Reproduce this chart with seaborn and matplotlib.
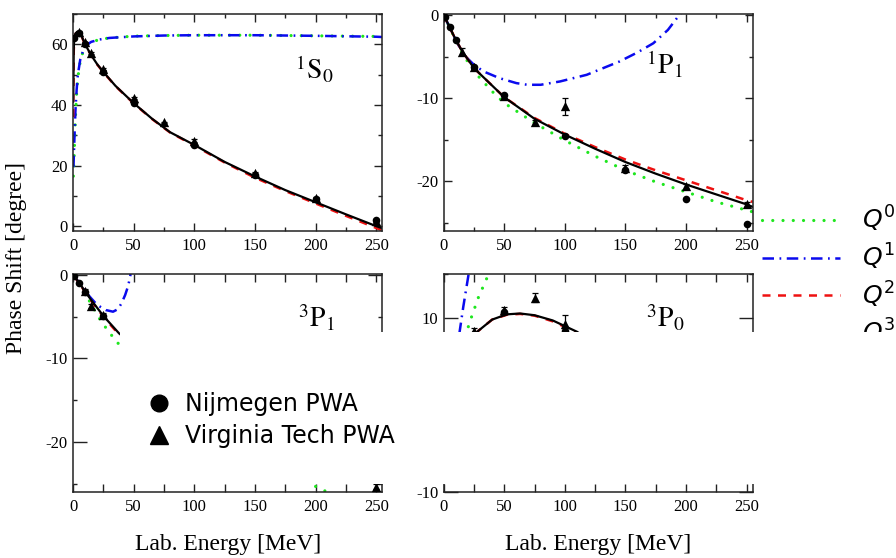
import matplotlib
matplotlib.use('Agg')
import matplotlib.pyplot as plt
from matplotlib.lines import Line2D
from matplotlib.patches import Rectangle
from matplotlib.ticker import MultipleLocator
from matplotlib.font_manager import FontProperties
import seaborn as sns

sns.set_theme(style='ticks')
plt.rcParams['font.family'] = ['Liberation Serif', 'DejaVu Serif']
plt.rcParams['mathtext.fontset'] = 'stix'
plt.rcParams['axes.unicode_minus'] = False
plt.rcParams['text.color'] = 'black'
plt.rcParams['axes.labelcolor'] = 'black'

# ---------------- data ----------------
E_nij = [1, 5, 10, 25, 50, 100, 150, 200, 250]

# 1S0
S0_nij = [62.07, 63.63, 59.96, 50.90, 40.54, 26.78, 16.94, 8.94, 1.96]
S0_vt_E = [5, 10, 15, 25, 50, 75, 100, 150, 200, 250]
S0_vt = [64.0, 60.6, 57.0, 51.8, 42.2, 34.2, 28.2, 17.6, 9.2, 1.6]
S0_vt_err = [0.3, 0.3, 0.3, 0.3, 0.4, 0.3, 0.4, 0.3, 0.3, 0.3]
S0_q0_E = [0.3, 1, 2, 3, 4, 6, 8, 11, 15, 22, 30, 50, 75, 100, 150, 200, 250, 255]
S0_q0 = [16.5, 24, 36, 44, 49, 54.5, 57.2, 59.5, 60.7, 61.6, 62.1, 62.7, 62.9, 63.0, 63.0, 62.8, 62.6, 62.5]
S0_q1_E = [0.4, 1, 2, 3, 4, 6, 8, 11, 15, 22, 30, 50, 75, 100, 150, 200, 250, 255]
S0_q1 = [19.5, 27, 38, 45, 50, 55, 57.5, 59.7, 60.8, 61.6, 62.1, 62.6, 62.9, 63.0, 63.0, 62.8, 62.5, 62.4]
S0_q2_E = [0.15, 0.6, 1, 2, 3.5, 5, 7, 10, 15, 20, 25, 35, 50, 65, 80, 100, 125, 150, 175, 200, 225, 250, 255]
S0_q2 = [36, 57.5, 61.8, 63.4, 64.0, 63.9, 62.7, 59.9, 56.3, 53.3, 50.8, 46.2, 40.5, 35.4, 30.9, 26.6, 21.0, 16.0, 11.6, 7.5, 3.4, -0.6, -1.4]
S0_q3_E = [0.2, 0.6, 1, 2, 3.5, 5, 7, 10, 15, 20, 25, 35, 50, 65, 80, 100, 125, 150, 175, 200, 225, 250, 255]
S0_q3 = [41, 58, 62.2, 63.6, 64.1, 64.0, 62.8, 60.0, 56.4, 53.4, 50.9, 46.3, 40.6, 35.5, 31.0, 26.8, 21.2, 16.4, 11.9, 7.9, 3.9, 0.0, -0.7]

# 1P1
P1s_nij = [-0.19, -1.49, -3.04, -6.31, -9.67, -14.52, -18.65, -22.18, -25.19]
P1s_vt_E = [15, 25, 50, 75, 100, 150, 200, 250]
P1s_vt = [-4.4, -6.3, -9.8, -12.9, -11.0, -18.4, -20.6, -22.8]
P1s_vt_err = [0.4, 0.2, 0.3, 0.3, 1.0, 0.3, 0.3, 0.3]
P1s_q0_E = [0, 5, 10, 15, 25, 40, 50, 75, 100, 125, 150, 175, 200, 225, 250, 255]
P1s_q0 = [0, -1.5, -3.1, -4.5, -6.8, -9.2, -10.6, -13.0, -15.1, -17.0, -18.7, -20.1, -21.3, -22.5, -23.5, -23.7]
P1s_q1_E = [0, 5, 10, 16, 25, 33, 46, 60, 69, 80, 96, 118, 145, 160, 173, 185, 196]
P1s_q1 = [0, -1.5, -3.0, -4.7, -6.0, -6.8, -7.6, -8.2, -8.4, -8.4, -8.0, -7.2, -5.6, -4.5, -3.4, -1.8, 0.3]
P1s_q2_E = [0, 5, 10, 15, 25, 50, 75, 100, 125, 150, 175, 200, 225, 250, 255]
P1s_q2 = [0, -1.5, -3.0, -4.3, -6.4, -9.9, -12.4, -14.3, -15.9, -17.4, -18.7, -19.9, -21.1, -22.3, -22.5]
P1s_q3_E = [0, 5, 10, 15, 25, 50, 75, 100, 125, 150, 175, 200, 225, 250, 255]
P1s_q3 = [0, -1.5, -3.0, -4.3, -6.4, -9.9, -12.5, -14.4, -16.1, -17.7, -19.1, -20.4, -21.6, -22.8, -23.1]

# 3P1
P1t_nij = [-0.11, -0.94, -2.06, -4.88, -8.25, -13.26, -17.43, -21.08, -24.27]
P1t_vt_E = [10, 15, 25, 50, 75, 100, 150, 200, 250]
P1t_vt = [-1.9, -3.7, -4.8, -8.0, -10.5, -13.0, -17.2, -21.5, -25.4]
P1t_vt_err = [0.2, 0.2, 0.2, 0.3, 0.3, 0.3, 0.3, 0.3, 0.3]
P1t_q0_E = [0, 5, 10, 15, 21.7, 27.7, 33.8, 50, 75, 100, 150, 195, 204, 215]
P1t_q0 = [0, -1.0, -2.2, -3.5, -5.2, -6.45, -7.6, -10.4, -14.0, -17.0, -21.5, -25.0, -25.6, -26.4]
P1t_q1_E = [0, 5, 10, 15, 20, 27, 33, 37, 40, 43, 45.5, 47.5]
P1t_q1 = [0, -0.9, -1.95, -2.8, -3.6, -4.2, -4.4, -4.1, -3.4, -2.4, -1.3, 0.1]
P1t_q2_E = [0, 5, 10, 15, 25, 38, 50, 75, 100, 150, 200, 250, 255]
P1t_q2 = [0, -0.95, -2.05, -3.1, -5.0, -7.15, -8.5, -11.1, -13.4, -17.5, -21.1, -24.3, -24.6]
P1t_q3_E = [0, 5, 10, 15, 25, 38, 50, 75, 100, 150, 200, 250, 255]
P1t_q3 = [0, -0.9, -2.0, -3.0, -4.9, -7.0, -8.4, -11.0, -13.3, -17.4, -21.0, -24.2, -24.5]

# 3P0
P0_nij = [0.18, 1.63, 3.65, 8.13, 10.70, 8.46, 3.69, -1.44, -6.51]
P0_vt_E = [25, 50, 75, 100, 150, 200, 250]
P0_vt = [8.5, 10.9, 12.3, 9.3, 4.0, -1.0, -6.0]
P0_vt_err = [0.3, 0.3, 0.5, 1.0, 0.5, 0.5, 0.5]
P0_q0_E = [0, 5, 10, 15, 21.7, 28.5, 36.7, 45]
P0_q0 = [0, 2.0, 4.3, 6.6, 9.6, 12.3, 14.9, 17.3]
P0_q1_E = [0, 5, 10, 13.4, 16.2, 20.3, 23]
P0_q1 = [0, 2.2, 5.4, 8.65, 11.3, 14.8, 17.5]
P0_q2_E = [0, 5, 10, 20, 28.5, 40, 52, 63, 75, 90, 110, 150, 200, 250, 255]
P0_q2 = [0, 1.6, 3.6, 6.8, 8.5, 9.8, 10.35, 10.45, 10.25, 9.6, 8.3, 4.3, -1.3, -6.6, -7.1]
P0_q3_E = [0, 5, 10, 20, 28.5, 40, 52, 63, 75, 90, 110, 150, 200, 250, 255]
P0_q3 = [0, 1.6, 3.6, 6.8, 8.5, 9.8, 10.4, 10.5, 10.3, 9.7, 8.4, 4.5, -1.0, -6.2, -6.7]

panel_labels = [r'$^{1}\mathrm{S}_{0}$', r'$^{1}\mathrm{P}_{1}$', r'$^{3}\mathrm{P}_{1}$', r'$^{3}\mathrm{P}_{0}$']
legend_q = [r'$Q^0$', r'$Q^1$', r'$Q^2$', r'$Q^3$']
legend_pwa = ['Nijmegen PWA', 'Virginia Tech PWA']
xlabel = 'Lab. Energy [MeV]'
ylabel = 'Phase Shift [degree]'

# ---------------- styles ----------------
GREEN = '#1ee61e'
BLUE = '#0a0aee'
RED = '#ee1111'
st_q0 = dict(color=GREEN, lw=2.3, linestyle=(0, (0.01, 3.2)), dash_capstyle='round')
st_q1 = dict(color=BLUE, lw=1.8, linestyle=(0, (4.6, 2.2, 0.7, 2.2)))
st_q2 = dict(color=RED, lw=1.8, linestyle=(0, (3.2, 3.0)))
st_q3 = dict(color='black', lw=1.6, linestyle='-')

W, H = 896, 558
fig = plt.figure(figsize=(W / 100, H / 100), dpi=100)


def rect(l, r, t, b):
    return [l / W, (H - b) / H, (r - l) / W, (b - t) / H]


ax_tl = fig.add_axes(rect(73, 382.3, 14, 231))
ax_tr = fig.add_axes(rect(443.7, 752.7, 14, 231))
ax_bl = fig.add_axes(rect(73, 382.3, 274.3, 492))
ax_br = fig.add_axes(rect(443.7, 752.7, 274.3, 492))

panels = [
    (ax_tl, S0_nij, S0_vt_E, S0_vt, S0_vt_err,
     (S0_q0_E, S0_q0), (S0_q1_E, S0_q1), (S0_q2_E, S0_q2), (S0_q3_E, S0_q3)),
    (ax_tr, P1s_nij, P1s_vt_E, P1s_vt, P1s_vt_err,
     (P1s_q0_E, P1s_q0), (P1s_q1_E, P1s_q1), (P1s_q2_E, P1s_q2), (P1s_q3_E, P1s_q3)),
    (ax_bl, P1t_nij, P1t_vt_E, P1t_vt, P1t_vt_err,
     (P1t_q0_E, P1t_q0), (P1t_q1_E, P1t_q1), (P1t_q2_E, P1t_q2), (P1t_q3_E, P1t_q3)),
    (ax_br, P0_nij, P0_vt_E, P0_vt, P0_vt_err,
     (P0_q0_E, P0_q0), (P0_q1_E, P0_q1), (P0_q2_E, P0_q2), (P0_q3_E, P0_q3)),
]

for ax, nij, vtE, vt, vterr, q0, q1, q2, q3 in panels:
    for (ex, dy), st in zip([q0, q1, q2, q3], [st_q0, st_q1, st_q2, st_q3]):
        sns.lineplot(x=ex, y=dy, ax=ax, sort=False, estimator=None, errorbar=None, **st)
    ax.errorbar(vtE, vt, yerr=vterr, fmt='none', ecolor='black', elinewidth=0.9,
                capsize=2.5, capthick=0.9, zorder=4)
    sns.scatterplot(x=E_nij, y=nij, ax=ax, marker='o', s=30, color='black',
                    linewidth=0, zorder=5)
    sns.scatterplot(x=vtE, y=vt, ax=ax, marker='^', s=45, color='black',
                    linewidth=0, zorder=5)

ylims = [(-1.6, 70), (-26, 0.12), (-26, 0.08), (-10, 15)]
ymaj = [20, 10, 10, 10]
ymin = [10, 5, 5, 5]
for ax, yl, mj, mn in zip([ax_tl, ax_tr, ax_bl, ax_br], ylims, ymaj, ymin):
    ax.set_xlim(0, 255)
    ax.set_ylim(*yl)
    ax.xaxis.set_major_locator(MultipleLocator(50))
    ax.xaxis.set_minor_locator(MultipleLocator(25))
    ax.yaxis.set_major_locator(MultipleLocator(mj))
    ax.yaxis.set_minor_locator(MultipleLocator(mn))
    ax.tick_params(which='both', direction='in', top=True, right=True,
                   width=1.0, color='#222222', labelsize=12, labelcolor='black')
    ax.tick_params(which='major', length=5.8)
    ax.tick_params(which='minor', length=3.0)
    ax.tick_params(axis='x', pad=5)
    ax.tick_params(axis='y', pad=4)
    for sp in ax.spines.values():
        sp.set_linewidth(1.1)
        sp.set_color('#222222')
    ax.set_xlabel('')
    ax.set_ylabel('')
    ax.set_facecolor('white')

for ax in [ax_bl, ax_br]:
    ax.tick_params(axis='y', which='major', length=10)
    ax.tick_params(axis='x', which='minor', length=5.5)
    ax.set_xlabel(xlabel, fontsize=17, labelpad=14, color='black')

label_pos = [(0.781, 0.742), (0.713, 0.765), (0.786, 0.80), (0.716, 0.80)]
for ax, lab, (px, py) in zip([ax_tl, ax_tr, ax_bl, ax_br], panel_labels, label_pos):
    ax.text(px, py, lab, transform=ax.transAxes, ha='center', va='center', fontsize=20,
            color='black')

fig.text(17 / W, 1 - 258 / H, ylabel, rotation=90, ha='center', va='center', fontsize=17,
         color='black')

# right legend (Q^n)
q_handles = [Line2D([], [], **st_q0), Line2D([], [], **st_q1), Line2D([], [], **st_q2),
             Line2D([], [], color='#333333', lw=0.9)]
leg_q = fig.legend(q_handles, legend_q, loc='upper left', bbox_to_anchor=(762 / W, 1 - 204 / H),
                   frameon=False, borderpad=0, borderaxespad=0, handlelength=3.1,
                   handletextpad=0.9, labelspacing=0.3, labelcolor='black',
                   prop=FontProperties(family='DejaVu Sans', size=18, math_fontfamily='dejavusans'))
leg_q.set_zorder(3)

# white mask
fig.add_artist(Rectangle((120 / W, (H - 484) / H), (W - 120) / W, (484 - 332) / H,
                         transform=fig.transFigure, facecolor='white', edgecolor='none', zorder=5))

# PWA legend
pwa_handles = [Line2D([], [], marker='o', color='black', linestyle='none', markersize=12),
               Line2D([], [], marker='^', color='black', linestyle='none', markersize=13)]
leg_p = fig.legend(pwa_handles, legend_pwa, loc='upper left', bbox_to_anchor=(147 / W, 1 - 392 / H),
                   frameon=False, borderpad=0, borderaxespad=0, handlelength=1.0,
                   handletextpad=0.6, labelspacing=0.35, labelcolor='black',
                   prop=FontProperties(family='DejaVu Sans', size=17))
leg_p.set_zorder(6)

fig.savefig('out.png', dpi=100, facecolor='white')
